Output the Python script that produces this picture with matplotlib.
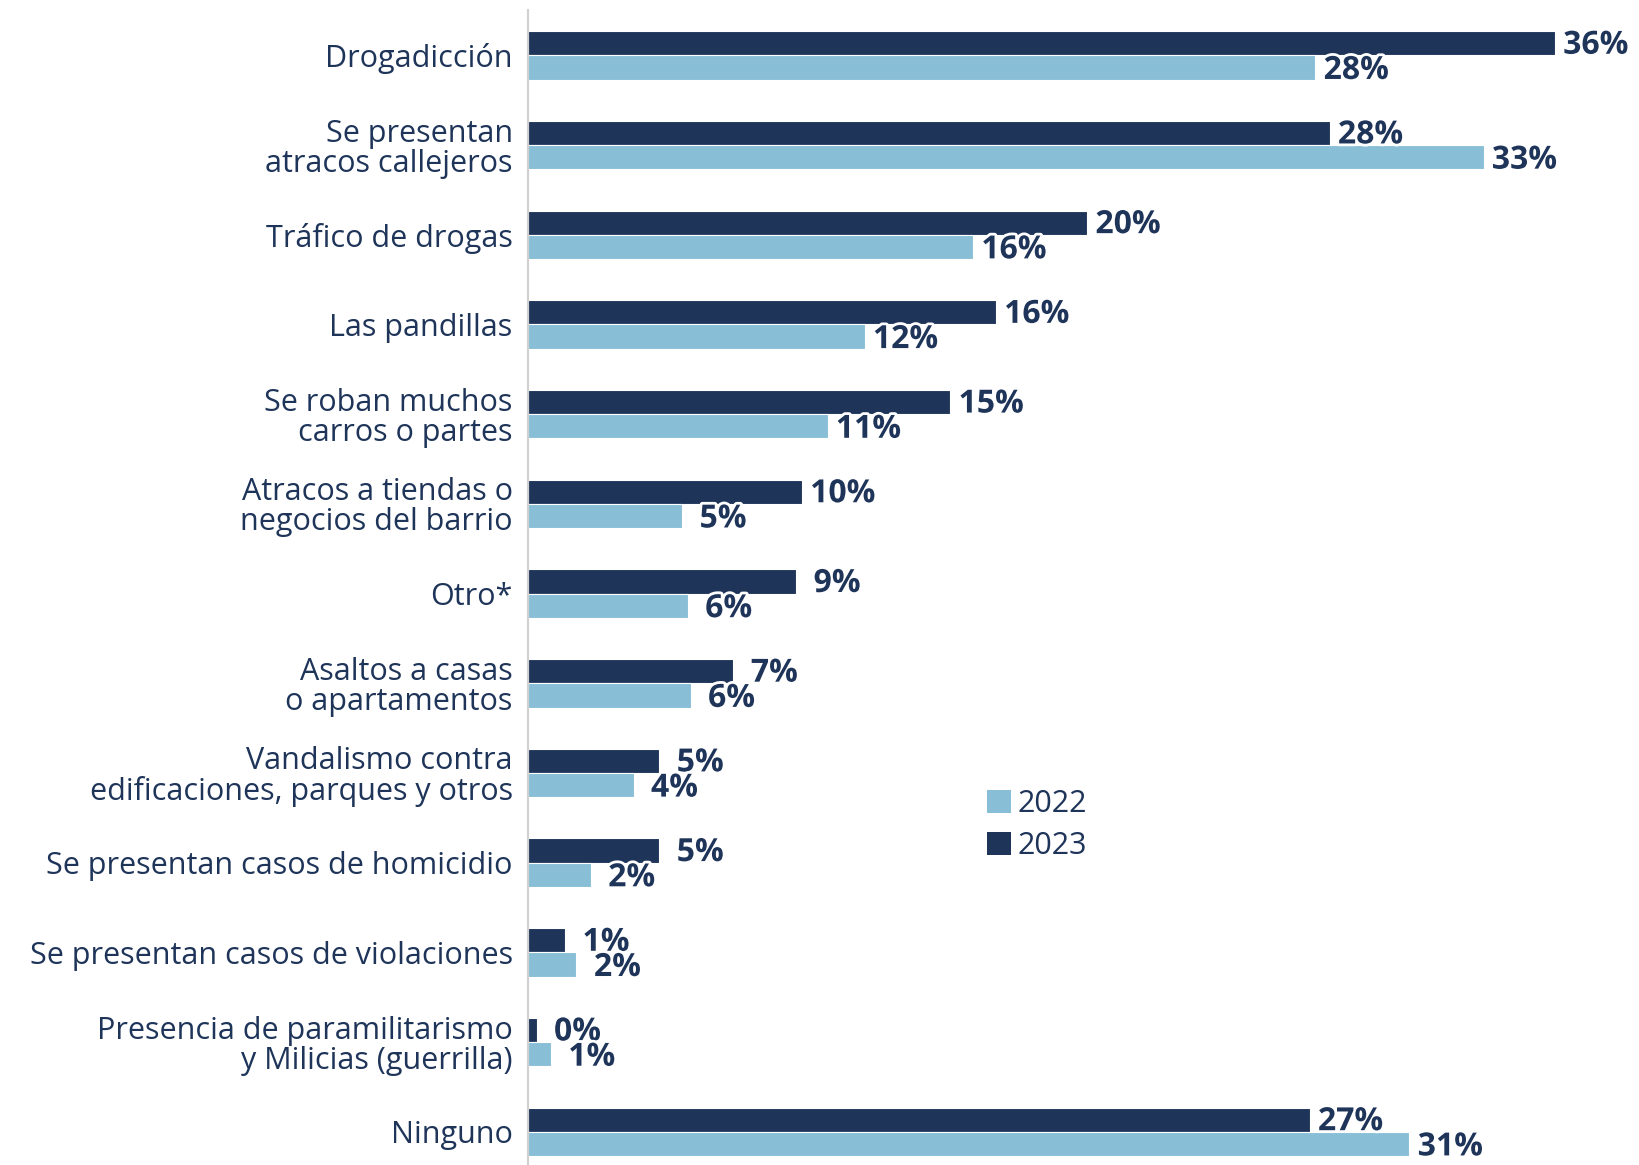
import matplotlib
matplotlib.use("Agg")
import matplotlib.pyplot as plt
import matplotlib.patheffects as pe
from matplotlib.patches import Patch
import numpy as np

categories = [
    "Drogadicción",
    "Se presentan\natracos callejeros",
    "Tráfico de drogas",
    "Las pandillas",
    "Se roban muchos\ncarros o partes",
    "Atracos a tiendas o\nnegocios del barrio",
    "Otro*",
    "Asaltos a casas\no apartamentos",
    "Vandalismo contra\nedificaciones, parques y otros",
    "Se presentan casos de homicidio",
    "Se presentan casos de violaciones",
    "Presencia de paramilitarismo\ny Milicias (guerrilla)",
    "Ninguno",
]
values_2023 = [36.0, 28.1, 19.6, 16.4, 14.8, 9.6, 9.4, 7.2, 4.6, 4.6, 1.3, 0.3, 27.4]
values_2022 = [27.6, 33.5, 15.6, 11.8, 10.5, 5.4, 5.6, 5.7, 3.7, 2.2, 1.7, 0.8, 30.9]
labels_2023 = ["36%", "28%", "20%", "16%", "15%", "10%", "9%", "7%", "5%", "5%", "1%", "0%", "27%"]
labels_2022 = ["28%", "33%", "16%", "12%", "11%", "5%", "6%", "6%", "4%", "2%", "2%", "1%", "31%"]
series_names = ["2022", "2023"]

NAVY = "#1e3459"
LIGHT = "#89bfd6"
TEXT = "#1e3459"
FONT = "Open Sans"

W, H = 1640, 1165
fig = plt.figure(figsize=(W / 100, H / 100), dpi=100)
ax_left = 528 / W
ax_w = 1084 / W
ax = fig.add_axes([ax_left, 0.0, ax_w, (H - 10.5) / H])

y = np.arange(len(categories))
bh = 0.27
ax.barh(y - bh / 2, values_2023, height=bh, color=NAVY, edgecolor="white", linewidth=0.8)
ax.barh(y + bh / 2, values_2022, height=bh, color=LIGHT, edgecolor="white", linewidth=0.8)

ax.set_xlim(0, 38)
ax.set_ylim(12.37, -0.50)

stroke = [pe.withStroke(linewidth=4, foreground="white")]
for i in range(len(categories)):
    ax.annotate(labels_2023[i], (values_2023[i], y[i] - bh / 2), xytext=(41, -2),
                textcoords="offset pixels", ha="center", va="center",
                fontsize=23, fontweight="bold", family=FONT, color=NAVY,
                path_effects=stroke)
    ax.annotate(labels_2022[i], (values_2022[i], y[i] + bh / 2), xytext=(41, -3),
                textcoords="offset pixels", ha="center", va="center",
                fontsize=23, fontweight="bold", family=FONT, color=NAVY,
                path_effects=stroke)

ax.set_yticks(y)
ax.set_yticklabels(categories, fontsize=22, family=FONT, color=TEXT, linespacing=1.0)
ax.tick_params(axis="y", length=0, pad=11)
ax.set_xticks([])
for s in ["top", "right", "bottom"]:
    ax.spines[s].set_visible(False)
ax.spines["left"].set_color("#d0d0d0")
ax.spines["left"].set_linewidth(1.5)

handles = [Patch(facecolor=LIGHT, edgecolor="none"), Patch(facecolor=NAVY, edgecolor="none")]
fig.legend(handles, series_names, loc="upper left",
           bbox_to_anchor=(987 / W, 1 - 789 / H), frameon=False,
           prop={"family": FONT, "size": 22}, labelcolor=TEXT,
           handlelength=0.8, handleheight=0.8, handletextpad=0.2,
           labelspacing=0.4, borderpad=0, borderaxespad=0)

fig.savefig("out.png", dpi=100)
